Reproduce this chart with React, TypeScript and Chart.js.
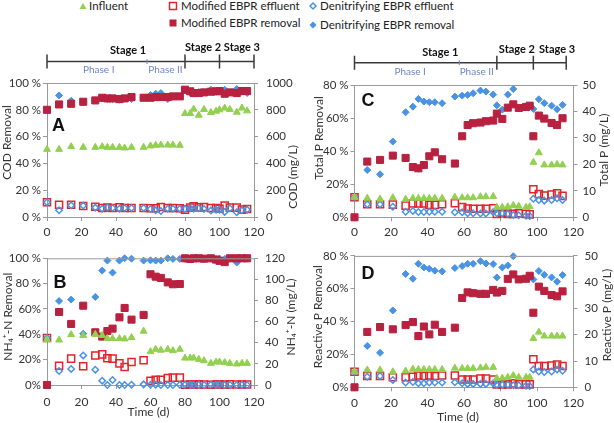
import React, { useEffect, useRef } from 'react';
import { Chart, registerables } from 'chart.js';
Chart.register(...registerables);

const FONT = "Lato, 'Open Sans', sans-serif";
const GREEN = '#92D050';
const RED_OPEN = '#E0262B';
const RED_FILL = '#B8213F';
const BLUE = '#4A93E4';
const AXIS = '#9a9a9a';
const TEXT = '#333333';

const seriesNames = ['Influent', 'Modified EBPR effluent', 'Denitrifying EBPR effluent', 'Modified EBPR removal', 'Denitrifying EBPR removal'];

// sampling days (d)
const daysAB = [0, 7, 14, 21, 28, 32, 35, 38, 42, 45, 49, 56, 60, 63, 66, 70, 73, 77, 80, 83, 85, 88, 91, 95, 98, 100, 103, 106, 110, 113, 116];
const daysCD = [0, 7, 14, 21, 28, 32, 35, 38, 41, 44, 48, 55, 59, 62, 65, 69, 72, 76, 78, 81, 84, 87, 90, 94, 96, 98, 101, 104, 108, 111, 114];

// A: COD
const codInfluent = [505, 505, 525, 520, 520, 525, 520, 520, 520, 515, 520, 520, 530, 535, 537, 537, 537, 535, 772, 772, 805, 760, 803, 780, 790, 800, 813, 803, 782, 813, 792];
const codModEff = [110, 92, 92, 82, 77, 67, 70, 67, 72, 67, 67, 67, 65, 65, 75, 67, 67, 65, 55, 70, 80, 72, 75, 67, 67, 62, 85, 70, 70, 55, 60];
const codDenEff = [110, 50, 87, 85, 70, 62, 72, 67, 62, 67, 67, 67, 60, 50, 45, 62, 62, 62, 60, 65, 62, 65, 60, 48, 55, 55, 38, 65, 35, 50, 55];
const codModRem = [80, 84, 84.5, 86, 87, 89, 88.5, 88.5, 88, 88.5, 89.5, 89, 89, 89.5, 89.5, 89.5, 90, 90, 95, 93.8, 92.5, 92.5, 93, 93.5, 93.8, 94, 92, 93, 92.5, 94, 94];
const codDenRem = [null, 90.75, 86.75, 85.5, 87, 88.5, 88, 88, 87.5, 88.5, 88, 89, 91, 92, 92.5, 88, 90, 90, 94.5, 93, 92, 93.3, 93, 95, 93.5, 93.5, 95, 93, 95.5, 93.5, 92.5];

// B: NH4+-N
const nhInfluent = [43, 42.6, 47.7, 47, 48, 47, 44, 44, 44, 43.6, 45, 51, 31.6, 33.8, 33, 33.8, 32.5, 33.8, 25.5, 25.6, 25.6, 24.3, 23, 20.5, 21.8, 21.8, 21.2, 20.5, 19.9, 20.5, 20.5];
const nhModEff = [44.5, 18.3, 25, 17.7, 28, 29, 25.3, 25, 20.5, 17, 21.8, 23.4, 4.1, 5, 5, 6.6, 7, 7, 0.3, 0.5, 0.4, 0.6, 0.5, 0.3, 0.5, 0.4, 0.5, 0.6, 0.4, 0.5, 0.5];
const nhDenEff = [44.5, 13.3, 15.2, 28, 14.5, 4.1, 0, 4.7, 0, 0, 0.3, 0.6, 0.2, 0.3, 0, 0, 0, 0.2, 0.3, 0.2, 0, 0.2, 0, 0.3, 0, 0.2, 0, 0.3, 0, 0.2, 0];
const nhModRem = [0, 57.6, 48.2, 62.6, 41.6, 38.2, 42.6, 44.5, 53.4, 60.8, 51.6, 55.3, 87.4, 85.5, 84.5, 81, 79.5, 79.7, 100, 99.5, 100, 100, 99.7, 100, 99, 98, 97, 100, 100, 100, 100];
const nhDenRem = [null, 66.3, 67.4, 40.5, 69.5, 90.3, 98.2, 88.7, 98.2, 100, 99.7, 98.2, 98.4, 98.2, 98.2, 100, 99.5, 99.5, 99.5, 99.3, 99.6, 99.8, 99.5, 99.7, 99.5, 99.8, 99.5, 99.6, 96.6, 99.8, 99.7];

// C: Total P
const tpInfluent = [7.6, 7.2, 6.9, 7.4, 6.8, 7.2, 7.2, 7.2, 7.2, 7.2, 7.2, 7.6, 7.4, 7.4, 7.4, 7.8, 7.8, 7.9, 3.8, 3.8, 4, 4.5, 4.2, 3.8, 4, 20.8, 24.4, 19.8, 19.8, 20, 19.8];
const tpModEff = [7.6, 4.9, 4.9, 4.8, 4.4, 5.2, 5.2, 5.2, 4.7, 4.7, 4.9, 5.3, 3.9, 3.3, 3.2, 3.2, 3.2, 3.4, 1.3, 1.6, 1.3, 1.3, 1.5, 1.3, 1.1, 10.6, 8.8, 8.2, 8.6, 9.1, 8.1];
const tpDenEff = [7.6, 4.9, 4.9, 4, 2.1, 2.4, 2, 2, 2.1, 2.1, 2.1, 1.9, 1.9, 1.5, 1.5, 1.4, 1.4, 2, 1.5, 1.5, 1.3, 0.9, 0.8, 0.6, 0.5, 7, 6.5, 6.3, 6.5, 7.2, 6.5];
const tpModRem = [0, 33.7, 34.7, 37.3, 35.9, 30.4, 29.6, 31.6, 36.9, 39.3, 35.1, 32.5, 49, 55.8, 56.9, 57.3, 58.1, 58.5, 62.7, 59.5, 66.3, 68.3, 66.1, 66.7, 67.5, 49, 61.5, 59.7, 57, 55.8, 59.9];
const tpDenRem = [null, 28.6, 26, 45.8, 63.5, 66.9, 71.6, 70, 69.6, 69.6, 69, 73, 73.6, 74, 75, 76.6, 76, 74.2, 67.7, 65.1, 74.2, 77.6, null, null, null, 65.5, 71.4, 69, 67.5, 65.3, 68];

// D: Reactive P
const rpInfluent = [5.9, 6.6, 6.6, 5.9, 6.2, 6.9, 6.8, 6.8, 6.8, 6.8, 6.8, 7.3, 7.2, 7.2, 7.2, 7.4, 7.6, 7.6, 3.4, 3.5, 3.8, 4.5, 3.8, 3.8, 3.8, 18.6, 21, 19.5, 19.5, 19.5, 19.5];
const rpModEff = [5.9, 4.3, 4.3, 3.8, 3.8, 4, 4.5, 4.3, 4.5, 4.3, 4.5, 4.5, 3, 3, 3, 3.3, 3.3, 3, 1.1, 1.1, 1.1, 1.5, 1.1, 1.1, 1.1, 10.7, 8.1, 8.1, 8.3, 8.7, 8.1];
const rpDenEff = [5.9, 4, 4.3, 2.8, 1.8, 2, 1.5, 1.5, 1.8, 1.8, 1.8, 1.9, 1.5, 1.3, 1.3, 1.3, 1.3, 1.5, 1, 1, 1, 0.8, 0.8, 0.6, 0.5, 6.8, 6, 5.8, 6, 6.8, 6.3];
const rpModRem = [0, 33.7, 36.7, 35.3, 37.9, 39.7, 31.2, 37, 32.2, 38.1, 33.7, 36.3, 54.4, 57.8, 57.3, 56.9, 56.9, 59.3, 57.7, 58.7, 66, 68.7, 65.7, 66.1, 67.9, 45.4, 61.3, 58.7, 56.2, 55.4, 58.4];
const rpDenRem = [null, 25.2, 21, 46.8, 69, 66.1, 75.2, 73, 72.2, 71, 70.6, 72.6, 73.8, 75.2, 75.2, 76.8, 75.4, 75, 66.9, 73, 74.2, 79.8, null, null, null, 65.7, 70.8, 68.5, 66.9, 64.3, 68.3];

// tick labels
const pctLabelsA = ['0 %', '20 %', '40 %', '60 %', '80 %', '100 %'];
const pctLabelsB = ['0%', '20%', '40%', '60%', '80 %', '100 %'];
const pctLabelsC = ['0%', '20%', '40 %', '60%', '80 %'];
const pctLabelsD = ['0%', '20%', '40 %', '60%', '80 %'];

// stage annotation
const stageNames = ['Stage 1', 'Stage 2', 'Stage 3'];
const phaseNames = ['Phase I', 'Phase II'];
const stageBoundsAB = [0, 80, 100, 120];
const phaseSplitAB = 58;
const stageLabelDaysAB = [47, 90.5, 113];
const phaseLabelDaysAB = [30, 68.7];
const stageBoundsCD = [0, 78, 98, 116];
const phaseSplitCD = 57.4;
const stageLabelDaysCD = [47, 89, 111];
const phaseLabelDaysCD = [30.5, 67];

type Stage = { bounds: number[]; split: number; labelDays: number[]; phaseDays: number[]; lineDy: number; s1Dy: number; s23Dy: number; phDy: number };
type Spec = {
  letter: string; letterDx: number; letterDy: number;
  left: number; top: number; width: number; height: number;
  padTop: number; leftW: number; rightW: number; bottomH: number; xPad: number; rPad: number;
  days: number[]; series: (number | null)[][];
  pctMax: number; pctLabels: string[]; concMax: number; concStep: number;
  leftTitle: string; leftTitlePos: [number, number];
  rightTitle: string; rightTitlePos: [number, number];
  xTitlePos?: [number, number];
  stage?: Stage;
};

const specs: Spec[] = [
  {
    letter: 'A', letterDx: 11.5, letterDy: 43.5,
    left: 0, top: 36, width: 307, height: 206, padTop: 47, leftW: 47, rightW: 53, bottomH: 25, xPad: 3.5, rPad: 8,
    days: daysAB, series: [codInfluent, codModEff, codDenEff, codModRem, codDenRem],
    pctMax: 100, pctLabels: pctLabelsA, concMax: 1000, concStep: 200,
    leftTitle: 'COD Removal', leftTitlePos: [7, 106.5],
    rightTitle: 'COD (mg/L)', rightTitlePos: [293.5, 141],
    stage: { bounds: stageBoundsAB, split: phaseSplitAB, labelDays: stageLabelDaysAB, phaseDays: phaseLabelDaysAB, lineDy: -21.5, s1Dy: -32.5, s23Dy: -36, phDy: -13 },
  },
  {
    letter: 'B', letterDx: 13, letterDy: 25,
    left: 0, top: 242, width: 307, height: 181, padTop: 16.3, leftW: 47, rightW: 53, bottomH: 38, xPad: 5.5, rPad: 7,
    days: daysAB, series: [nhInfluent, nhModEff, nhDenEff, nhModRem, nhDenRem],
    pctMax: 100, pctLabels: pctLabelsB, concMax: 120, concStep: 20,
    leftTitle: 'NH\u2084\u207A-N Removal', leftTitlePos: [8, 74.7],
    rightTitle: 'NH\u2084\u207A-N (mg/L)', rightTitlePos: [291, 75],
    xTitlePos: [148.5, 170],
  },
  {
    letter: 'C', letterDx: 13.5, letterDy: 15.7,
    left: 307, top: 36, width: 307, height: 206, padTop: 49, leftW: 47.5, rightW: 40.5, bottomH: 24.7, xPad: 3.2, rPad: 5,
    days: daysCD, series: [tpInfluent, tpModEff, tpDenEff, tpModRem, tpDenRem],
    pctMax: 80, pctLabels: pctLabelsC, concMax: 50, concStep: 10,
    leftTitle: 'Total P Removal', leftTitlePos: [12, 102],
    rightTitle: 'Total P (mg/L)', rightTitlePos: [297.5, 114],
    stage: { bounds: stageBoundsCD, split: phaseSplitCD, labelDays: stageLabelDaysCD, phaseDays: phaseLabelDaysCD, lineDy: -22.3, s1Dy: -32.3, s23Dy: -35.7, phDy: -13.3 },
  },
  {
    letter: 'D', letterDx: 13.5, letterDy: 18,
    left: 307, top: 242, width: 307, height: 181, padTop: 13, leftW: 47.5, rightW: 40.5, bottomH: 35.7, xPad: 4.8, rPad: 7,
    days: daysCD, series: [rpInfluent, rpModEff, rpDenEff, rpModRem, rpDenRem],
    pctMax: 80, pctLabels: pctLabelsD, concMax: 50, concStep: 10,
    leftTitle: 'Reactive P Removal', leftTitlePos: [11, 74.7],
    rightTitle: 'Reactive P (mg/L)', rightTitlePos: [300, 73],
    xTitlePos: [151, 175.5],
  },
];

function pts(days: number[], vals: (number | null)[]) {
  const out: { x: number; y: number }[] = [];
  days.forEach((d, i) => { const v = vals[i]; if (v !== null && v !== undefined) out.push({ x: d, y: v }); });
  return out;
}

function Panel({ spec }: { spec: Spec }) {
  const ref = useRef<HTMLCanvasElement>(null);
  useEffect(() => {
    if (!ref.current) return;
    const [infl, modEff, denEff, modRem, denRem] = spec.series;
    const d = spec.days;
    const decor = {
      id: 'decor' + spec.letter,
      afterDraw(chart: any) {
        const ctx = chart.ctx;
        const a = chart.chartArea;
        ctx.save();
        // top border of plot box
        ctx.strokeStyle = AXIS; ctx.lineWidth = 1;
        ctx.beginPath(); ctx.moveTo(a.left, a.top + 0.5); ctx.lineTo(a.right, a.top + 0.5); ctx.stroke();
        // panel letter
        ctx.fillStyle = '#111'; ctx.font = "bold 18px 'Liberation Sans', Arial, sans-serif";
        ctx.textAlign = 'center'; ctx.textBaseline = 'middle';
        ctx.fillText(spec.letter, a.left + spec.letterDx, a.top + spec.letterDy);
        // axis titles
        ctx.fillStyle = TEXT; ctx.font = '12px ' + FONT;
        const rot = (t: string, x: number, y: number) => {
          ctx.save(); ctx.translate(x, y); ctx.rotate(-Math.PI / 2); ctx.fillText(t, 0, 0); ctx.restore();
        };
        rot(spec.leftTitle, spec.leftTitlePos[0], spec.leftTitlePos[1]);
        rot(spec.rightTitle, spec.rightTitlePos[0], spec.rightTitlePos[1]);
        if (spec.xTitlePos) ctx.fillText('Time (d)', spec.xTitlePos[0], spec.xTitlePos[1]);
        // stages
        const st = spec.stage;
        if (st) {
          const xs = chart.scales.x;
          const yl = a.top + st.lineDy;
          ctx.strokeStyle = '#3a3a3a'; ctx.lineWidth = 1.5;
          ctx.beginPath();
          ctx.moveTo(xs.getPixelForValue(st.bounds[0]), yl);
          ctx.lineTo(xs.getPixelForValue(st.bounds[st.bounds.length - 1]), yl);
          st.bounds.forEach((b) => { const px = xs.getPixelForValue(b); ctx.moveTo(px, yl - 7); ctx.lineTo(px, yl + 7); });
          ctx.stroke();
          ctx.strokeStyle = '#6a86c8'; ctx.lineWidth = 1;
          ctx.beginPath();
          const sp = xs.getPixelForValue(st.split);
          ctx.moveTo(sp, yl - 2.5); ctx.lineTo(sp, yl + 2.5); ctx.stroke();
          ctx.fillStyle = '#111'; ctx.font = 'bold 11px ' + FONT;
          st.labelDays.forEach((ld, i) => {
            ctx.fillText(stageNames[i], xs.getPixelForValue(ld), a.top + (i === 0 ? st.s1Dy : st.s23Dy));
          });
          ctx.fillStyle = '#6a86c8'; ctx.font = '10px ' + FONT;
          st.phaseDays.forEach((pd, i) => {
            ctx.fillText(phaseNames[i], xs.getPixelForValue(pd), a.top + st.phDy);
          });
        }
        ctx.restore();
      },
    };
    const tickFont = { family: FONT, size: 12 };
    const chart = new Chart(ref.current, {
      type: 'scatter',
      data: {
        datasets: [
          { label: seriesNames[0], data: pts(d, infl), yAxisID: 'y2', pointStyle: 'triangle', pointRadius: 4, backgroundColor: GREEN, borderColor: GREEN, borderWidth: 1, clip: false },
          { label: seriesNames[2], data: pts(d, denEff), yAxisID: 'y2', pointStyle: 'rectRot', pointRadius: 3.2, backgroundColor: 'rgba(255,255,255,0)', borderColor: BLUE, borderWidth: 1.5, clip: false },
          { label: seriesNames[1], data: pts(d, modEff), yAxisID: 'y2', pointStyle: 'rect', pointRadius: 5, backgroundColor: 'rgba(255,255,255,0)', borderColor: RED_OPEN, borderWidth: 1.5, clip: false },
          { label: seriesNames[3], data: pts(d, modRem), yAxisID: 'y', pointStyle: 'rect', pointRadius: 5, backgroundColor: RED_FILL, borderColor: RED_FILL, borderWidth: 1, clip: false },
          { label: seriesNames[4], data: pts(d, denRem), yAxisID: 'y', pointStyle: 'rectRot', pointRadius: 3.5, backgroundColor: BLUE, borderColor: BLUE, borderWidth: 1, clip: false },
        ] as any,
      },
      options: {
        animation: false,
        responsive: false,
        devicePixelRatio: 1,
        layout: { padding: { top: spec.padTop, left: 0, right: 0, bottom: 0 } },
        plugins: { legend: { display: false }, tooltip: { enabled: false } },
        scales: {
          x: {
            type: 'linear', min: 0, max: 120,
            ticks: { stepSize: 20, font: tickFont, color: TEXT, padding: spec.xPad, maxRotation: 0 },
            grid: { drawOnChartArea: false, drawTicks: true, tickLength: 4, color: AXIS },
            border: { display: true, color: AXIS },
            afterFit: (s: any) => { s.height = spec.bottomH; },
          },
          y: {
            position: 'left', min: 0, max: spec.pctMax,
            ticks: { stepSize: 20, font: { family: FONT, size: 11.5 }, color: TEXT, padding: 2, callback: (v: any) => spec.pctLabels[Math.round(v / 20)] },
            grid: { drawOnChartArea: false, drawTicks: true, tickLength: 4, color: AXIS },
            border: { display: true, color: AXIS },
            afterFit: (s: any) => { s.width = spec.leftW; },
          },
          y2: {
            position: 'right', min: 0, max: spec.concMax,
            ticks: { stepSize: spec.concStep, font: { family: FONT, size: 11.5 }, color: TEXT, padding: spec.rPad, callback: (v: any) => String(v) },
            grid: { drawOnChartArea: false, drawTicks: true, tickLength: 4, color: AXIS },
            border: { display: true, color: AXIS },
            afterFit: (s: any) => { s.width = spec.rightW; },
          },
        },
      } as any,
      plugins: [decor],
    });
    return () => chart.destroy();
  }, [spec]);
  return (
    <canvas
      ref={ref}
      width={spec.width}
      height={spec.height}
      style={{ position: 'absolute', left: spec.left, top: spec.top, width: spec.width, height: spec.height }}
    />
  );
}

function Marker({ kind }: { kind: number }) {
  const common = { width: 10, height: 10, viewBox: '0 0 10 10', style: { display: 'block' } as React.CSSProperties };
  if (kind === 0) return <svg {...common}><polygon points="5,2 8.5,8 1.5,8" fill={GREEN} /></svg>;
  if (kind === 1) return <svg {...common}><rect x="1.5" y="1.5" width="7" height="7" fill="none" stroke={RED_OPEN} strokeWidth="1.5" /></svg>;
  if (kind === 2) return <svg {...common}><polygon points="5,2 8,5 5,8 2,5" fill="none" stroke={BLUE} strokeWidth="1.5" /></svg>;
  if (kind === 3) return <svg {...common}><rect x="1.5" y="1.5" width="7" height="7" fill={RED_FILL} /></svg>;
  return <svg {...common}><polygon points="5,1.5 8.5,5 5,8.5 1.5,5" fill={BLUE} /></svg>;
}

// legend layout: [marker center x, center y, text left]
const legendPos: [number, number, number][] = [
  [83, 6, 89],
  [173, 6, 181],
  [313, 6, 320],
  [173, 23, 181],
  [313, 25, 320],
];

export default function App() {
  return (
    <div style={{ position: 'absolute', left: 0, top: 0, width: 614, height: 423, background: '#fff', overflow: 'hidden' }}>
      {seriesNames.map((name, i) => {
        const [mx, my, tx] = legendPos[i];
        return (
          <React.Fragment key={name}>
            <div style={{ position: 'absolute', left: mx - 5, top: my - 5 }}><Marker kind={i} /></div>
            <div style={{ position: 'absolute', left: tx, top: my - 7, lineHeight: '14px', fontSize: 11.5, fontFamily: FONT, color: '#222', whiteSpace: 'nowrap' }}>{name}</div>
          </React.Fragment>
        );
      })}
      {specs.map((s) => <Panel key={s.letter} spec={s} />)}
    </div>
  );
}
